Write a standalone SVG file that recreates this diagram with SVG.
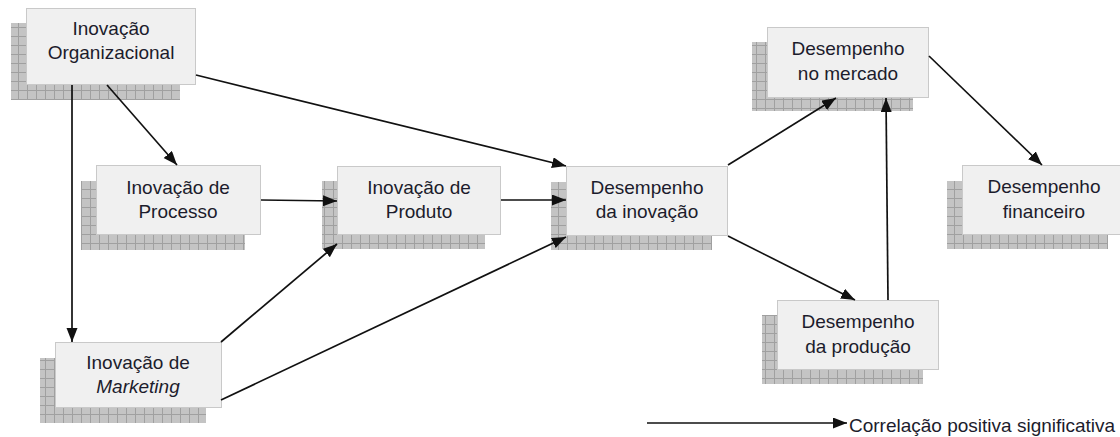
<svg xmlns="http://www.w3.org/2000/svg" width="1120" height="437" viewBox="0 0 1120 437">
<defs>
<pattern id="grid" width="9" height="9" patternUnits="userSpaceOnUse">
<rect width="9" height="9" fill="#c4c4c4"/>
<path d="M0,0.5 H9 M0.5,0 V9" stroke="#a0a0a0" stroke-width="1" fill="none"/>
</pattern>
<marker id="ah" markerWidth="15" markerHeight="12" refX="14" refY="5.5" orient="auto" markerUnits="userSpaceOnUse">
<path d="M0,0 L14,5.5 L0,11 z" fill="#111"/>
</marker>
</defs>
<style>
.sh{fill:url(#grid);}
.bx{fill:#f0f0f0;stroke:#c9c9c9;stroke-width:1;}
.t{font-family:"Liberation Sans",Arial,sans-serif;font-size:19px;fill:#1c1c2c;text-anchor:middle;}
.c{stroke:#111;stroke-width:1.7;fill:none;marker-end:url(#ah);}
.lg{font-family:"Liberation Sans",Arial,sans-serif;font-size:19px;fill:#1c1c2c;}
</style>
<rect width="1120" height="437" fill="#fff"/>
<g id="n-org">
<rect class="sh" x="11" y="23" width="169" height="77"/>
<rect class="bx" x="26.5" y="8.5" width="169" height="76"/>
<text class="t" x="111" y="35">Inovação</text>
<text class="t" x="111" y="59">Organizacional</text>
</g>
<g id="n-processo">
<rect class="sh" x="81" y="181" width="164" height="69"/>
<rect class="bx" x="96.5" y="165.5" width="164" height="69"/>
<text class="t" x="178" y="194">Inovação de</text>
<text class="t" x="178" y="218">Processo</text>
</g>
<g id="n-produto">
<rect class="sh" x="322" y="181" width="163" height="68"/>
<rect class="bx" x="337.5" y="166.5" width="163" height="68"/>
<text class="t" x="419" y="194">Inovação de</text>
<text class="t" x="419" y="218">Produto</text>
</g>
<g id="n-marketing">
<rect class="sh" x="40" y="358" width="166" height="65"/>
<rect class="bx" x="55.5" y="342.5" width="166" height="65"/>
<text class="t" x="138" y="369">Inovação de</text>
<text class="t" x="138" y="393" font-style="italic">Marketing</text>
</g>
<g id="n-desinov">
<rect class="sh" x="551" y="182" width="161" height="68"/>
<rect class="bx" x="566.5" y="166.5" width="161" height="69"/>
<text class="t" x="647" y="194">Desempenho</text>
<text class="t" x="647" y="218">da inovação</text>
</g>
<g id="n-mercado">
<rect class="sh" x="752" y="42" width="161" height="69"/>
<rect class="bx" x="767.5" y="27.5" width="161" height="70"/>
<text class="t" x="848" y="55">Desempenho</text>
<text class="t" x="848" y="80">no mercado</text>
</g>
<g id="n-producao">
<rect class="sh" x="762" y="315" width="161" height="69"/>
<rect class="bx" x="777.5" y="300.5" width="161" height="69"/>
<text class="t" x="858" y="328">Desempenho</text>
<text class="t" x="858" y="353">da produção</text>
</g>
<g id="n-financeiro">
<rect class="sh" x="947" y="181" width="161" height="68"/>
<rect class="bx" x="962.5" y="165.5" width="162" height="69"/>
<text class="t" x="1044" y="193">Desempenho</text>
<text class="t" x="1044" y="218">financeiro</text>
</g>
<g id="connectors">
<line class="c" x1="107" y1="85" x2="177" y2="165"/>
<line class="c" x1="72" y1="85" x2="72" y2="342"/>
<line class="c" x1="196" y1="75" x2="566" y2="166"/>
<line class="c" x1="261" y1="200" x2="337" y2="201"/>
<line class="c" x1="501" y1="200" x2="566" y2="200"/>
<line class="c" x1="221" y1="342" x2="337" y2="244"/>
<line class="c" x1="221" y1="400" x2="566" y2="237"/>
<line class="c" x1="728" y1="165" x2="836" y2="98"/>
<line class="c" x1="728" y1="236" x2="855" y2="300"/>
<line class="c" x1="888" y1="300" x2="886" y2="98"/>
<line class="c" x1="929" y1="56" x2="1042" y2="165"/>
<line class="c" x1="647" y1="423" x2="847" y2="423"/>
</g>
<text class="lg" x="849" y="432">Correlação positiva significativa</text>
</svg>
